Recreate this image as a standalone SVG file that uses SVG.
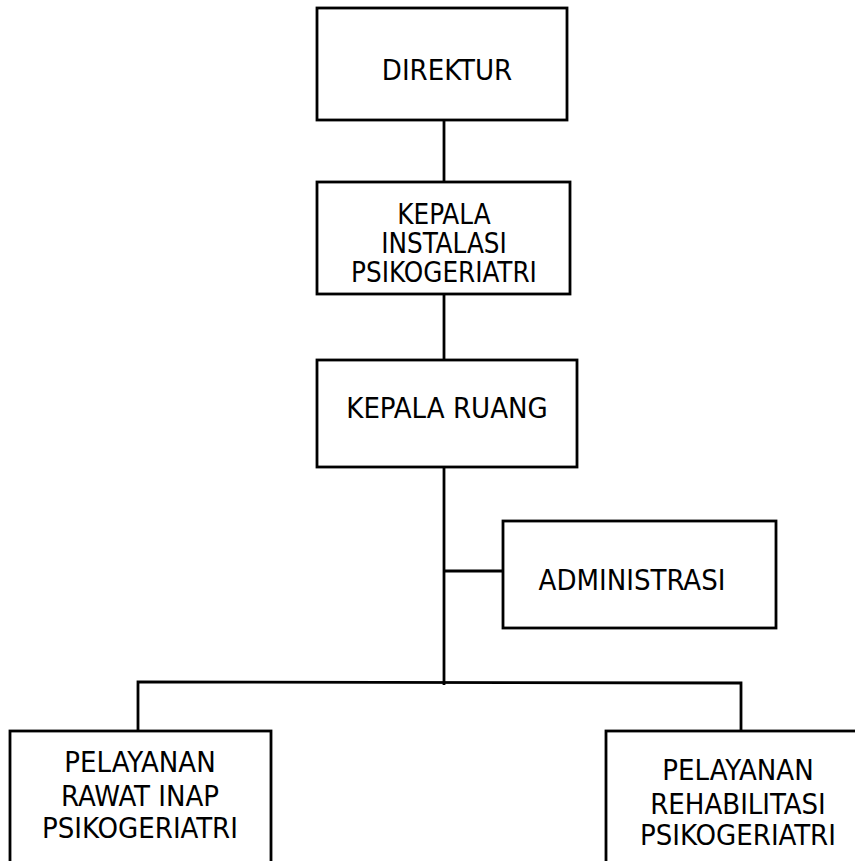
<svg xmlns="http://www.w3.org/2000/svg" width="855" height="861" viewBox="0 0 855 861">
  <style>
    .box { fill: #ffffff; stroke: #000000; stroke-width: 2.8; }
    .wire { fill: none; stroke: #000000; stroke-width: 2.8; }
    .label { font-family: "DejaVu Sans Condensed", "DejaVu Sans", sans-serif; font-size: 29px; fill: #000000; text-anchor: middle; }
    .tight { font-size: 27.5px; }
  </style>
  <rect width="855" height="861" fill="#ffffff"/>

  <g id="connectors">
    <line class="wire" x1="444" y1="120" x2="444" y2="182"/>
    <line class="wire" x1="444" y1="294" x2="444" y2="360"/>
    <line class="wire" x1="444" y1="467" x2="444" y2="685"/>
    <line class="wire" x1="444" y1="571" x2="503" y2="571"/>
    <polyline class="wire" points="138,731 138,682 741,683 741,733"/>
  </g>

  <g id="direktur">
    <rect class="box" x="317" y="8" width="250" height="112"/>
    <text class="label" x="447" y="80">DIREKTUR</text>
  </g>

  <g id="kepala-instalasi">
    <rect class="box" x="317" y="182" width="253" height="112"/>
    <text class="label tight" x="444" y="224">KEPALA</text>
    <text class="label tight" x="444" y="253">INSTALASI</text>
    <text class="label tight" x="444" y="282">PSIKOGERIATRI</text>
  </g>

  <g id="kepala-ruang">
    <rect class="box" x="317" y="360" width="260" height="107"/>
    <text class="label" x="447" y="418">KEPALA RUANG</text>
  </g>

  <g id="administrasi">
    <rect class="box" x="503" y="521" width="273" height="107"/>
    <text class="label" x="632" y="590">ADMINISTRASI</text>
  </g>

  <g id="pelayanan-rawat-inap">
    <rect class="box" x="10" y="731" width="261" height="150"/>
    <text class="label" x="140" y="772">PELAYANAN</text>
    <text class="label" x="140" y="806">RAWAT INAP</text>
    <text class="label" x="140" y="838">PSIKOGERIATRI</text>
  </g>

  <g id="pelayanan-rehabilitasi">
    <rect class="box" x="606" y="731" width="270" height="150"/>
    <text class="label" x="738" y="780">PELAYANAN</text>
    <text class="label" x="738" y="814">REHABILITASI</text>
    <text class="label" x="738" y="845">PSIKOGERIATRI</text>
  </g>
</svg>
